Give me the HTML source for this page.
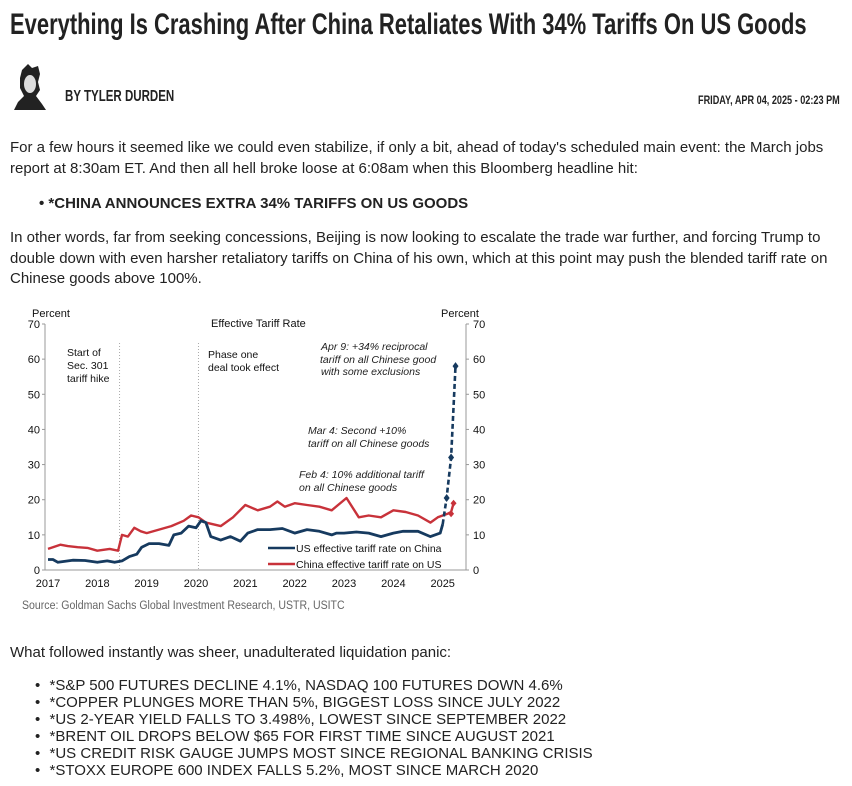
<!DOCTYPE html>
<html><head><meta charset="utf-8">
<style>
body{margin:0;width:852px;height:786px;background:#fff;position:relative;overflow:hidden;font-family:"Liberation Sans",Arial,sans-serif;color:#222}
.a{position:absolute;white-space:nowrap}
.t{font-size:15px;line-height:21px}
.cond{display:inline-block;transform-origin:0 0}
.bl{position:absolute;left:37px;font-size:15px;line-height:17px;white-space:nowrap}
.bl::before{content:"•";position:absolute;left:-2px}
</style></head><body>
<div class="a" style="left:10px;top:8px;font-size:30px;font-weight:bold;color:#222"><span class="cond" style="transform:scaleX(0.732)">Everything Is Crashing After China Retaliates With 34% Tariffs On US Goods</span></div>
<svg class="a" style="left:10px;top:64px" width="40" height="46"><path d="M12 6 L18 0 L22 4 L28 2 L30 10 L28 18 L30 26 L26 32 L32 40 L36 46 L4 46 L8 38 L14 32 L10 24 L10 14 Z" fill="#222"/><ellipse cx="20" cy="20" rx="6" ry="9" fill="#ddd"/></svg>
<div class="a" style="left:65px;top:88px;font-size:16px;font-weight:bold"><span class="cond" style="transform:scaleX(0.72)">BY TYLER DURDEN</span></div>
<div class="a" style="left:698px;top:93px;font-size:12px;font-weight:bold"><span class="cond" style="transform:scaleX(0.76)">FRIDAY, APR 04, 2025 - 02:23 PM</span></div>

<div class="a t" style="left:10px;top:137px"><span class="cond" style="transform:scaleX(1.0)">For a few hours it seemed like we could even stabilize, if only a bit, ahead of today's scheduled main event: the March jobs<br>report at 8:30am ET. And then all hell broke loose at 6:08am when this Bloomberg headline hit:</span></div>
<div class="a t" style="left:39px;top:193px;font-weight:bold">•&nbsp;<span class="cond" style="transform:scaleX(1.0)">*CHINA ANNOUNCES EXTRA 34% TARIFFS ON US GOODS</span></div>
<div class="a t" style="left:10px;top:228px;line-height:20.5px"><span class="cond" style="transform:scaleX(1.0)">In other words, far from seeking concessions, Beijing is now looking to escalate the trade war further, and forcing Trump to<br>double down with even harsher retaliatory tariffs on China of his own, which at this point may push the blended tariff rate on<br>Chinese goods above 100%.</span></div>

<svg id="chart" class="a" style="left:0;top:300px" width="500" height="320" font-family="Liberation Sans, Arial, sans-serif"></svg>

<div class="a t" style="left:10px;top:642px">What followed instantly was sheer, unadulterated liquidation panic:</div>
<div>
<div class="bl" style="top:677px">&nbsp;&nbsp;&nbsp;<span class="cond">*S&amp;P 500 FUTURES DECLINE 4.1%, NASDAQ 100 FUTURES DOWN 4.6%</span></div>
<div class="bl" style="top:694px">&nbsp;&nbsp;&nbsp;<span class="cond">*COPPER PLUNGES MORE THAN 5%, BIGGEST LOSS SINCE JULY 2022</span></div>
<div class="bl" style="top:711px">&nbsp;&nbsp;&nbsp;<span class="cond">*US 2-YEAR YIELD FALLS TO 3.498%, LOWEST SINCE SEPTEMBER 2022</span></div>
<div class="bl" style="top:728px">&nbsp;&nbsp;&nbsp;<span class="cond">*BRENT OIL DROPS BELOW $65 FOR FIRST TIME SINCE AUGUST 2021</span></div>
<div class="bl" style="top:745px">&nbsp;&nbsp;&nbsp;<span class="cond">*US CREDIT RISK GAUGE JUMPS MOST SINCE REGIONAL BANKING CRISIS</span></div>
<div class="bl" style="top:762px">&nbsp;&nbsp;&nbsp;<span class="cond">*STOXX EUROPE 600 INDEX FALLS 5.2%, MOST SINCE MARCH 2020</span></div>
</div>

<script>
const yTicks=[0,10,20,30,40,50,60,70];
const xTicks=[2017,2018,2019,2020,2021,2022,2023,2024,2025];
const usDates=[2017.0,2017.1,2017.2,2017.35,2017.5,2017.75,2018.0,2018.2,2018.35,2018.5,2018.65,2018.8,2018.9,2019.05,2019.25,2019.45,2019.55,2019.7,2019.85,2020.0,2020.1,2020.2,2020.3,2020.5,2020.7,2020.9,2021.05,2021.25,2021.5,2021.75,2022.0,2022.25,2022.5,2022.75,2022.85,2023.0,2023.25,2023.5,2023.75,2024.0,2024.2,2024.5,2024.75,2024.95,2025.0];
const usValues=[3,3,2.2,2.5,2.8,2.7,2.2,2.6,2.2,2.6,3.8,4.5,6.5,7.5,7.5,7,10,10.5,12.5,12,14,13.5,9.5,8.5,9.5,8.2,10.5,11.5,11.5,11.8,10.5,11.5,11,10,10.5,10.5,10.8,10.5,9.5,10.5,11,11,9.5,10.5,13];
const usDashDates=[2025.0,2025.08,2025.17,2025.26];
const usDashValues=[13,20.5,32,58];
const cnDates=[2017.0,2017.1,2017.25,2017.4,2017.6,2017.8,2018.0,2018.25,2018.42,2018.5,2018.62,2018.75,2018.88,2019.0,2019.25,2019.5,2019.75,2019.9,2020.05,2020.2,2020.5,2020.75,2021.0,2021.25,2021.5,2021.65,2021.8,2022.0,2022.25,2022.5,2022.75,2023.05,2023.3,2023.5,2023.75,2024.0,2024.25,2024.5,2024.75,2024.9,2025.0,2025.1,2025.17,2025.22];
const cnValues=[6,6.5,7.2,6.8,6.5,6.3,5.5,6,5.5,10,9.5,12,11,10.5,11.5,12.5,14,15.5,15,13.5,12.5,15,18.5,17,18,19.5,18,19,18.5,18,17,20.5,15,15.5,15,17,16.5,15.5,13.5,15,15.5,16,16.5,19];
const svg=document.getElementById('chart');
const NS='http://www.w3.org/2000/svg';
const x0=48,x1=442.7,y0=270,y1=24;
function xs(v){return x0+(v-2017)*(x1-x0)/8;}
function ys(v){return y0+(v)*(y1-y0)/70;}
function mk(tag,attrs,parent){const e=document.createElementNS(NS,tag);for(const k in attrs)e.setAttribute(k,attrs[k]);(parent||svg).appendChild(e);return e;}
function txt(s,x,y,attrs){const e=mk('text',Object.assign({x:x,y:y,'font-size':11,fill:'#111'},attrs||{}));e.textContent=s;return e;}
const ax=mk('line',{x1:45,x2:45,y1:y1,y2:y0,stroke:'#999'});


const ax2=mk('line',{x1:466,x2:466,y1:y1,y2:y0,stroke:'#999'});


const xa=mk('line',{x1:45,x2:466,y1:y0,y2:y0,stroke:'#999'});


yTicks.forEach(v=>{
  const l=txt(String(v),40,ys(v)+4,{'text-anchor':'end'});
  
  
  const r=txt(String(v),473,ys(v)+4);
  
  
  mk('line',{x1:42,x2:45,y1:ys(v),y2:ys(v),stroke:'#999'});
  mk('line',{x1:466,x2:469,y1:ys(v),y2:ys(v),stroke:'#999'});
});
xTicks.forEach(v=>{
  const t=txt(String(v),xs(v),287,{'text-anchor':'middle'});
  
  
});
[2018.45,2020.05].forEach(v=>{
  const l=mk('line',{x1:xs(v),x2:xs(v),y1:43,y2:y0,stroke:'#aaa','stroke-dasharray':'1,2'});
  
  
});
function path(d,v){return d.map((t,i)=>(i?'L':'M')+xs(t).toFixed(1)+' '+ys(v[i]).toFixed(1)).join(' ');}
const red=mk('path',{d:path(cnDates,cnValues),fill:'none',stroke:'#c8323a','stroke-width':2.4,'stroke-linejoin':'round'});


const blue=mk('path',{d:path(usDates,usValues),fill:'none',stroke:'#163a5f','stroke-width':2.8,'stroke-linejoin':'round'});


const dash=mk('path',{d:path(usDashDates,usDashValues),fill:'none',stroke:'#163a5f','stroke-width':2.6,'stroke-dasharray':'5,3'});


usDashDates.slice(1).forEach((d,i)=>{
  const m=mk('path',{d:`M${xs(d)} ${ys(usDashValues[i+1])-4} l3 4 l-3 4 l-3 -4 z`,fill:'#163a5f'});
  
  
});
[[2025.17,16],[2025.22,19]].forEach(p=>{
  const m=mk('path',{d:`M${xs(p[0])} ${ys(p[1])-3.5} l3 3.5 l-3 3.5 l-3 -3.5 z`,fill:'#c8323a'});
  
  
});
txt('Percent',32,17);
txt('Percent',441,17);
txt('Effective Tariff Rate',211,27);
const an=[['Start of',67,56],['Sec. 301',67,69],['tariff hike',67,82],['Phase one',208,58],['deal took effect',208,71]];
an.forEach(a=>txt(a[0],a[1],a[2],{'font-size':10.5}));
const it=[['Apr 9: +34% reciprocal',321,50],['tariff on all Chinese good',320,63],['with some exclusions',321,75],['Mar 4: Second +10%',308,134],['tariff on all Chinese goods',308,147],['Feb 4: 10% additional tariff',299,178],['on all Chinese goods',299,191]];
it.forEach(a=>txt(a[0],a[1],a[2],{'font-size':10.5,'font-style':'italic','fill':'#222'}));
mk('line',{x1:268,x2:295,y1:248,y2:248,stroke:'#163a5f','stroke-width':2.5});
txt('US effective tariff rate on China',296,252,{'font-size':10.5});
mk('line',{x1:268,x2:295,y1:264,y2:264,stroke:'#c8323a','stroke-width':2.5});
txt('China effective tariff rate on US',296,268,{'font-size':10.5});
const src=txt('Source: Goldman Sachs Global Investment Research, USTR, USITC',22,309,{'font-size':12,fill:'#666',transform:'translate(22 0) scale(0.88 1) translate(-22 0)'});


</script>
</body></html>
